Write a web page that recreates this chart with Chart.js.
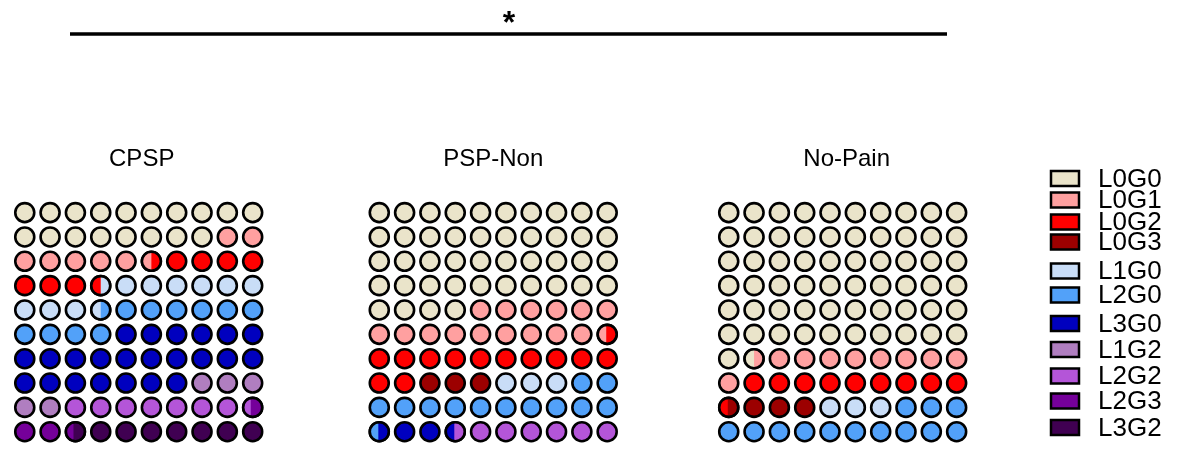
<!DOCTYPE html>
<html>
<head>
<meta charset="utf-8">
<script src="https://cdn.jsdelivr.net/npm/chart.js@4.4.1/dist/chart.umd.min.js"></script>
<style>
  html, body { margin: 0; padding: 0; background: #ffffff; }
  #wrap { width: 1179px; height: 456px; }
</style>
</head>
<body>
<div id="wrap"><canvas id="waffle" width="1179" height="456"></canvas></div>
<script>
// Lesion / grade categories (legend order)
const categories = ['L0G0', 'L0G1', 'L0G2', 'L0G3', 'L1G0', 'L2G0', 'L3G0', 'L1G2', 'L2G2', 'L2G3', 'L3G2'];
const categoryColors = ['#EAE4CA', '#FFA0A0', '#FF0000', '#9C0000', '#C9DDF7', '#52A1F9', '#0000BF', '#B07EC0', '#B455D8', '#75009A', '#400052'];

// Groups and their percentage share per category (each sums to 100)
const groups = ['CPSP', 'PSP-Non', 'No-Pain'];
const cpspShare   = [18, 7.5, 8, 0, 10, 10.5, 23, 5, 7.4, 3, 7.6];
const pspNonShare = [44, 15.45, 12.55, 3, 3, 12.45, 3, 0, 6.55, 0, 0];
const noPainShare = [61.5, 9.5, 9.45, 3.55, 3, 13, 0, 0, 0, 0, 0];
const groupShares = [cpspShare, pspNonShare, noPainShare];

// Significance annotation spanning the groups
const significanceLabel = '*';

// ---- layout constants (grid units) ----
const GRID = 10;                  // 10 x 10 waffle
const groupOffsets = [0, 14, 27.8];
const titleNudge = [3, 0, 4];     // px shift of each group title
const DOT_R = 9.5;
const DOT_BORDER = 2.6;

// Split each group's shares into 100 unit cells; each cell lists its colour segments
function buildCells(shares) {
  const bounds = [];
  let acc = 0;
  shares.forEach((v, i) => { bounds.push([acc, acc + v, i]); acc += v; });
  const cells = [];
  for (let k = 0; k < GRID * GRID; k++) {
    const segs = [];
    bounds.forEach(([a, b, i]) => {
      const lo = Math.max(a, k), hi = Math.min(b, k + 1);
      if (hi - lo > 1e-6) segs.push({ from: lo - k, to: hi - k, cat: i });
    });
    cells.push(segs);
  }
  return cells;
}
const groupCells = groupShares.map(buildCells);

const datasets = groups.map((g, gi) => ({
  label: g,
  data: groupCells[gi].map((segs, k) => ({ x: groupOffsets[gi] + (k % GRID), y: Math.floor(k / GRID) })),
  pointBackgroundColor: groupCells[gi].map(segs => categoryColors[segs[0].cat]),
  pointBorderColor: '#000000',
  pointBorderWidth: DOT_BORDER,
  pointRadius: DOT_R,
  pointHoverRadius: DOT_R,
  showLine: false,
  clip: false
}));

// Cells shared by two categories: paint the segments as vertical strips
const splitCells = {
  id: 'splitCells',
  afterDatasetsDraw(chart) {
    const ctx = chart.ctx;
    groupCells.forEach((cells, gi) => {
      const meta = chart.getDatasetMeta(gi);
      cells.forEach((segs, k) => {
        if (segs.length < 2) return;
        const pt = meta.data[k];
        const cx = pt.x, cy = pt.y;
        ctx.save();
        ctx.beginPath();
        ctx.arc(cx, cy, DOT_R, 0, Math.PI * 2);
        ctx.clip();
        segs.forEach(s => {
          const x0 = cx - DOT_R + s.from * 2 * DOT_R;
          const x1 = cx - DOT_R + s.to * 2 * DOT_R;
          ctx.fillStyle = categoryColors[s.cat];
          ctx.fillRect(x0, cy - DOT_R - 1, x1 - x0, 2 * DOT_R + 2);
        });
        ctx.restore();
        ctx.save();
        ctx.beginPath();
        ctx.arc(cx, cy, DOT_R, 0, Math.PI * 2);
        ctx.lineWidth = DOT_BORDER;
        ctx.strokeStyle = '#000000';
        ctx.stroke();
        ctx.restore();
      });
    });
  }
};

// Group titles, significance bar and the category key
const legendRows = [178.5, 200, 222, 242, 271, 295, 323.5, 349.5, 376, 401, 427.5];
const annotations = {
  id: 'annotations',
  afterDraw(chart) {
    const ctx = chart.ctx;
    const xs = chart.scales.x;
    ctx.save();
    ctx.fillStyle = '#000000';
    ctx.textAlign = 'center';
    ctx.textBaseline = 'alphabetic';
    ctx.font = '24px "Liberation Sans", Arial, sans-serif';
    groups.forEach((g, gi) => {
      ctx.fillText(g, xs.getPixelForValue(groupOffsets[gi] + 4.5) + titleNudge[gi], 166);
    });

    // significance bracket
    ctx.lineWidth = 3.5;
    ctx.strokeStyle = '#000000';
    ctx.beginPath();
    ctx.moveTo(70, 34);
    ctx.lineTo(947, 34);
    ctx.stroke();
    ctx.font = 'bold 32px "Liberation Sans", Arial, sans-serif';
    ctx.fillText(significanceLabel, 509, 33);

    // key
    ctx.textAlign = 'left';
    ctx.textBaseline = 'middle';
    ctx.font = '26px "Liberation Sans", Arial, sans-serif';
    categories.forEach((c, i) => {
      const y = legendRows[i];
      ctx.fillStyle = categoryColors[i];
      ctx.fillRect(1051, y - 7.5, 28, 15);
      ctx.lineWidth = 2.5;
      ctx.strokeStyle = '#000000';
      ctx.strokeRect(1051, y - 7.5, 28, 15);
      ctx.fillStyle = '#000000';
      ctx.fillText(c, 1098, y + 1);
    });
    ctx.restore();
  }
};

new Chart(document.getElementById('waffle'), {
  type: 'scatter',
  data: { datasets },
  options: {
    responsive: false,
    animation: false,
    events: [],
    layout: { padding: { left: 9.3, right: 209.7, top: 200.4, bottom: 2.6 } },
    scales: {
      x: { type: 'linear', min: -0.5, max: 37.3, display: false },
      y: { type: 'linear', min: -0.5, max: 9.5, reverse: true, display: false }
    },
    plugins: {
      legend: { display: false },
      tooltip: { enabled: false },
      title: { display: false }
    }
  },
  plugins: [splitCells, annotations]
});
</script>
</body>
</html>
